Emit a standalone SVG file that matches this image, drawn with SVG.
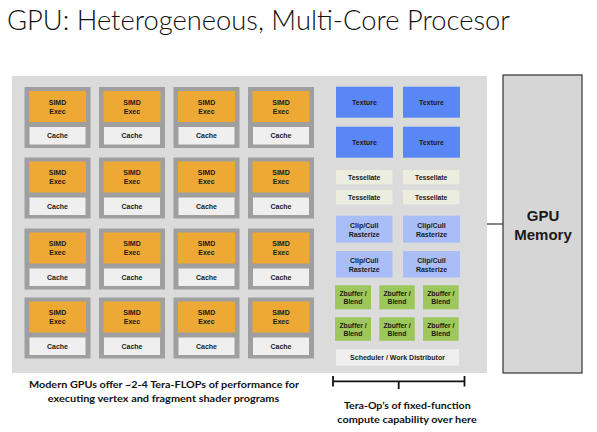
<svg xmlns="http://www.w3.org/2000/svg" width="597" height="432" viewBox="0 0 597 432">
<style>
.lbl{font-family:"Liberation Sans",Arial,sans-serif;font-weight:bold;font-size:7px;fill:#1a1a1a;text-anchor:middle}
.sm{font-size:6.8px}
.core{fill:#9f9f9f}
.simd{fill:#eea834}
.cache{fill:#efefef}
.tex{fill:#5a87f6}
.tess{fill:#ececdf}
.clip{fill:#a9bef8}
.zb{fill:#9dc75b}
.sched{fill:#efefef}
.cap{font-family:Lato,"Open Sans",sans-serif;font-weight:bold;font-size:9.7px;fill:#111;text-anchor:middle}
</style>
<defs>
<g id="coreTpl">
<rect class="core" x="0" y="0" width="66" height="61"/>
<rect class="simd" x="4.5" y="4" width="57" height="31"/>
<rect class="cache" x="5" y="40" width="56" height="17.5"/>
<text class="lbl" x="33" y="17.8">SIMD</text>
<text class="lbl" x="33" y="26.8">Exec</text>
<text class="lbl" x="33" y="51.3">Cache</text>
</g>
</defs>
<rect width="597" height="432" fill="#ffffff"/>
<text x="7" y="30" textLength="503" lengthAdjust="spacingAndGlyphs" style="font-family:Lato,'Open Sans',sans-serif;font-weight:300;font-size:28px;fill:#111">GPU: Heterogeneous, Multi-Core Procesor</text>

<g id="gpu-panel">
<rect x="12" y="76" width="475" height="297" fill="#dbdbdb"/>
</g>

<g id="cores">
<use id="core-1-1" href="#coreTpl" x="24.5" y="87"/>
<use id="core-1-2" href="#coreTpl" x="99" y="87"/>
<use id="core-1-3" href="#coreTpl" x="173.5" y="87"/>
<use id="core-1-4" href="#coreTpl" x="248" y="87"/>
<use id="core-2-1" href="#coreTpl" x="24.5" y="157.5"/>
<use id="core-2-2" href="#coreTpl" x="99" y="157.5"/>
<use id="core-2-3" href="#coreTpl" x="173.5" y="157.5"/>
<use id="core-2-4" href="#coreTpl" x="248" y="157.5"/>
<use id="core-3-1" href="#coreTpl" x="24.5" y="228.5"/>
<use id="core-3-2" href="#coreTpl" x="99" y="228.5"/>
<use id="core-3-3" href="#coreTpl" x="173.5" y="228.5"/>
<use id="core-3-4" href="#coreTpl" x="248" y="228.5"/>
<use id="core-4-1" href="#coreTpl" x="24.5" y="297.5"/>
<use id="core-4-2" href="#coreTpl" x="99" y="297.5"/>
<use id="core-4-3" href="#coreTpl" x="173.5" y="297.5"/>
<use id="core-4-4" href="#coreTpl" x="248" y="297.5"/>
</g>

<g id="texture-units">
<g id="tex-1"><rect class="tex" x="336" y="86.7" width="57" height="31"/><text class="lbl" x="364.5" y="104.7">Texture</text></g>
<g id="tex-2"><rect class="tex" x="403" y="86.7" width="57" height="31"/><text class="lbl" x="431.5" y="104.7">Texture</text></g>
<g id="tex-3"><rect class="tex" x="336" y="126.7" width="57" height="31"/><text class="lbl" x="364.5" y="144.7">Texture</text></g>
<g id="tex-4"><rect class="tex" x="403" y="126.7" width="57" height="31"/><text class="lbl" x="431.5" y="144.7">Texture</text></g>
</g>

<g id="tessellate-units">
<g id="tess-1"><rect class="tess" x="336" y="170" width="56.5" height="14.3"/><text class="lbl sm" x="364.2" y="179.5">Tessellate</text></g>
<g id="tess-2"><rect class="tess" x="403" y="170" width="56.5" height="14.3"/><text class="lbl sm" x="431.2" y="179.5">Tessellate</text></g>
<g id="tess-3"><rect class="tess" x="336" y="190" width="56.5" height="14.3"/><text class="lbl sm" x="364.2" y="199.5">Tessellate</text></g>
<g id="tess-4"><rect class="tess" x="403" y="190" width="56.5" height="14.3"/><text class="lbl sm" x="431.2" y="199.5">Tessellate</text></g>
</g>

<g id="clip-units">
<g id="clip-1"><rect class="clip" x="336" y="215.7" width="56.5" height="27"/><text class="lbl" x="364.2" y="228.3">Clip/Cull</text><text class="lbl" x="364.2" y="236.9">Rasterize</text></g>
<g id="clip-2"><rect class="clip" x="403" y="215.7" width="57" height="27"/><text class="lbl" x="431.5" y="228.3">Clip/Cull</text><text class="lbl" x="431.5" y="236.9">Rasterize</text></g>
<g id="clip-3"><rect class="clip" x="336" y="251" width="56.5" height="26.5"/><text class="lbl" x="364.2" y="263.4">Clip/Cull</text><text class="lbl" x="364.2" y="272">Rasterize</text></g>
<g id="clip-4"><rect class="clip" x="403" y="251" width="57" height="26.5"/><text class="lbl" x="431.5" y="263.4">Clip/Cull</text><text class="lbl" x="431.5" y="272">Rasterize</text></g>
</g>

<g id="zbuffer-units">
<g id="zb-1"><rect class="zb" x="335" y="285.3" width="36" height="24"/><text class="lbl sm" x="353" y="296">Zbuffer /</text><text class="lbl sm" x="353" y="304.2">Blend</text></g>
<g id="zb-2"><rect class="zb" x="379.3" y="285.3" width="35.5" height="24"/><text class="lbl sm" x="397" y="296">Zbuffer /</text><text class="lbl sm" x="397" y="304.2">Blend</text></g>
<g id="zb-3"><rect class="zb" x="423" y="285.3" width="35.7" height="24"/><text class="lbl sm" x="440.8" y="296">Zbuffer /</text><text class="lbl sm" x="440.8" y="304.2">Blend</text></g>
<g id="zb-4"><rect class="zb" x="335" y="317.3" width="36" height="23.5"/><text class="lbl sm" x="353" y="327.8">Zbuffer /</text><text class="lbl sm" x="353" y="336">Blend</text></g>
<g id="zb-5"><rect class="zb" x="379.3" y="317.3" width="35.5" height="23.5"/><text class="lbl sm" x="397" y="327.8">Zbuffer /</text><text class="lbl sm" x="397" y="336">Blend</text></g>
<g id="zb-6"><rect class="zb" x="423" y="317.3" width="35.7" height="23.5"/><text class="lbl sm" x="440.8" y="327.8">Zbuffer /</text><text class="lbl sm" x="440.8" y="336">Blend</text></g>
</g>

<g id="scheduler">
<rect class="sched" x="336" y="349.3" width="123" height="16.4"/>
<text class="lbl" x="397.5" y="360">Scheduler / Work Distributor</text>
</g>

<g id="gpu-memory">
<rect x="503" y="75" width="79" height="298" fill="#d6d6d6" stroke="#333" stroke-width="1.2"/>
<text class="lbl" x="543" y="221" style="font-size:15px">GPU</text>
<text class="lbl" x="543" y="239.5" style="font-size:15px">Memory</text>
</g>

<g id="connectors" stroke="#333" stroke-width="1.2" fill="none">
<line x1="487" y1="224" x2="503" y2="224"/>
</g>

<g id="bracket" stroke="#111" stroke-width="1.8" fill="none">
<line x1="333" y1="381.3" x2="464.5" y2="381.3"/>
<line x1="333" y1="376" x2="333" y2="386.5"/>
<line x1="464.5" y1="376" x2="464.5" y2="386.5"/>
<line x1="398.7" y1="381.3" x2="398.7" y2="389"/>
</g>

<g id="captions">
<text class="cap" x="164" y="388" textLength="270" lengthAdjust="spacingAndGlyphs">Modern GPUs offer ~2-4 Tera-FLOPs of performance for</text>
<text class="cap" x="163.5" y="401.7" textLength="231.5" lengthAdjust="spacingAndGlyphs">executing vertex and fragment shader programs</text>
<text class="cap" x="407.3" y="408.7" textLength="126.7" lengthAdjust="spacingAndGlyphs">Tera-Op’s of fixed-function</text>
<text class="cap" x="407" y="422.5" textLength="139.4" lengthAdjust="spacingAndGlyphs">compute capability over here</text>
</g>
</svg>
